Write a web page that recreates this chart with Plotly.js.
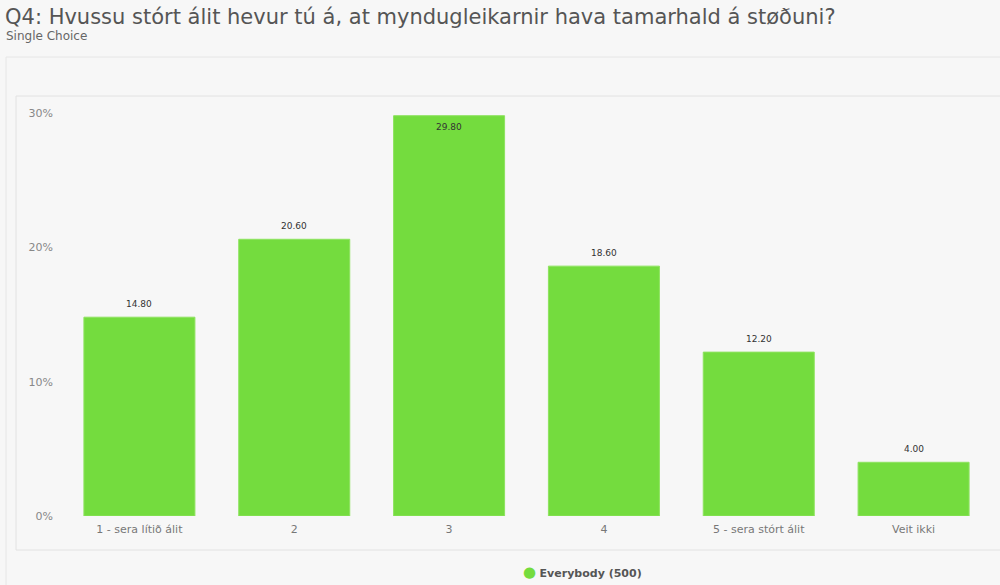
<!DOCTYPE html>
<html>
<head>
<meta charset="utf-8">
<script src="https://cdn.plot.ly/plotly-3.0.1.min.js"></script>
<style>html,body{margin:0;padding:0;background:#f7f7f7;}#chart{width:1000px;height:585px;}</style>
</head>
<body>
<div id="chart"></div>
<script>
const categories = ["1 - sera lítið álit", "2", "3", "4", "5 - sera stórt álit", "Veit ikki"];
const values = [14.80, 20.60, 29.80, 18.60, 12.20, 4.00];
const seriesName = "Everybody (500)";
const yTickVals = [0, 10, 20, 30];
const yTickText = ["0%", "10%", "20%", "30%"];
const titleText = "Q4: Hvussu stórt álit hevur tú á, at myndugleikarnir hava tamarhald á støðuni?";
const subtitleText = "Single Choice";

const W = 1000, H = 585;
const mL = 62, mR = 9, mT = 113, mB = 69;
const pw = W - mL - mR, ph = H - mT - mB;
const px = x => (x - mL) / pw;
const py = y => (H - mB - y) / ph;

const green = "#74dc3e";
const font = "DejaVu Sans, Verdana, sans-serif";

const bar = {
  type: "bar",
  x: categories,
  y: values,
  name: seriesName,
  showlegend: false,
  marker: {color: green, line: {color: "#8ee35f", width: 1}},
  hoverinfo: "skip"
};

const valueLabels = categories.map((c, i) => {
  const inside = values[i] > 28;
  return {
    x: i, y: values[i], xref: "x", yref: "y",
    text: values[i].toFixed(2), showarrow: false,
    yanchor: "middle", yshift: inside ? -11 : 13,
    font: {family: font, size: 9, color: "#333"}
  };
});

const layout = {
  width: W, height: H,
  paper_bgcolor: "#f7f7f7",
  plot_bgcolor: "rgba(0,0,0,0)",
  margin: {l: mL, r: mR, t: mT, b: mB, pad: 0, autoexpand: false},
  title: {
    text: titleText,
    font: {family: font, size: 21, color: "#555"},
    xref: "container", yref: "container",
    x: 5 / W, xanchor: "left",
    y: 1 - 17 / H, yanchor: "middle"
  },
  annotations: [{
    text: subtitleText, showarrow: false,
    xref: "paper", yref: "paper",
    x: px(4), xanchor: "left",
    y: py(36), yanchor: "middle",
    font: {family: font, size: 12, color: "#666"}
  }, {
    text: "<span style='color:" + green + ";font-size:15px'>●</span> <b>" + seriesName + "</b>",
    showarrow: false,
    xref: "paper", yref: "paper",
    x: px(582), xanchor: "center",
    y: py(572), yanchor: "middle",
    font: {family: font, size: 11, color: "#555"}
  }].concat(valueLabels),
  shapes: [
    {type: "rect", xref: "paper", yref: "paper", x0: px(6), x1: px(1010), y0: py(57), y1: py(600),
     line: {color: "#e6e6e6", width: 1}, fillcolor: "#f7f7f7", layer: "below"},
    {type: "rect", xref: "paper", yref: "paper", x0: px(16), x1: px(1010), y0: py(96), y1: py(550),
     line: {color: "#e2e2e2", width: 1}, fillcolor: "#f7f7f7", layer: "below"}
  ],
  bargap: 0.283,
  xaxis: {
    type: "category",
    tickfont: {family: font, size: 11, color: "#777"},
    showgrid: false, zeroline: false, showline: false,
    ticks: "", ticklabelstandoff: 5, fixedrange: true
  },
  yaxis: {
    range: [0, 30],
    tickvals: yTickVals, ticktext: yTickText,
    tickfont: {family: font, size: 11, color: "#888"},
    showgrid: false, zeroline: false, showline: false,
    ticks: "", ticklabelstandoff: 8, fixedrange: true
  },
  showlegend: false
};

Plotly.newPlot("chart", [bar], layout, {displayModeBar: false, staticPlot: true});
</script>
</body>
</html>
